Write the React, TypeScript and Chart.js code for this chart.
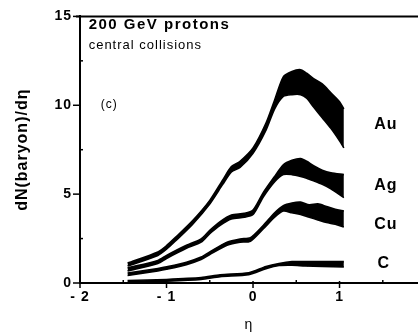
import React, { useEffect, useRef } from "react";
import { Chart, registerables } from "chart.js";

Chart.register(...registerables);

// ---- data (pseudorapidity eta vs dN(baryon)/deta, lower/upper edge of each band) ----
const etaAu = [-1.45, -1.1, -1.0, -0.9, -0.7, -0.5, -0.35, -0.25, -0.15, 0.0, 0.15, 0.25, 0.35, 0.45, 0.55, 0.62, 0.7, 0.8, 0.9, 1.0, 1.05];
const auLower = [0.95, 1.55, 1.9, 2.35, 3.3, 4.45, 5.55, 6.25, 6.5, 7.3, 8.6, 9.8, 10.5, 10.6, 10.6, 10.4, 9.9, 9.3, 8.7, 8.0, 7.6];
const auUpper = [1.12, 1.75, 2.1, 2.55, 3.5, 4.65, 5.8, 6.55, 6.85, 7.6, 9.0, 10.3, 11.6, 11.9, 12.0, 11.8, 11.5, 11.2, 10.7, 10.2, 9.8];

const etaAg = [-1.45, -1.1, -1.0, -0.77, -0.6, -0.5, -0.38, -0.25, -0.1, 0.0, 0.12, 0.25, 0.35, 0.45, 0.55, 0.62, 0.7, 0.8, 0.9, 1.05];
const agLower = [0.68, 1.1, 1.38, 1.95, 2.3, 2.78, 3.25, 3.6, 3.7, 3.85, 4.85, 5.7, 6.1, 6.1, 6.0, 5.9, 5.75, 5.55, 5.3, 4.8];
const agUpper = [0.85, 1.27, 1.55, 2.12, 2.48, 2.96, 3.45, 3.82, 3.92, 4.1, 5.1, 6.0, 6.65, 6.9, 7.0, 6.85, 6.6, 6.35, 6.2, 6.1];

const etaCu = [-1.45, -1.1, -1.0, -0.77, -0.6, -0.5, -0.3, -0.15, -0.03, 0.12, 0.25, 0.35, 0.45, 0.55, 0.65, 0.75, 0.85, 0.95, 1.05];
const cuLower = [0.42, 0.68, 0.77, 1.03, 1.32, 1.6, 2.12, 2.3, 2.35, 3.05, 3.7, 4.05, 3.95, 3.85, 3.7, 3.55, 3.4, 3.3, 3.15];
const cuUpper = [0.56, 0.82, 0.91, 1.17, 1.46, 1.75, 2.3, 2.48, 2.55, 3.25, 3.95, 4.35, 4.5, 4.55, 4.4, 4.45, 4.3, 4.15, 4.05];

const etaC = [-1.45, -1.0, -0.6, -0.38, -0.05, 0.15, 0.3, 0.45, 0.6, 0.8, 1.05];
const cLower = [0.04, 0.1, 0.2, 0.36, 0.47, 0.8, 0.98, 1.0, 0.96, 0.93, 0.9];
const cUpper = [0.14, 0.2, 0.3, 0.46, 0.58, 0.93, 1.1, 1.2, 1.2, 1.2, 1.2];

const speciesNames = ["Au", "Ag", "Cu", "C"];
const labelValues = [8.9, 5.5, 3.3, 1.1]; // y value where each species label sits

const titleText = "200 GeV protons";
const subtitleText = "central collisions";
const panelText = "(c)";
const xTitle = "η";
const yTitle = "dN(baryon)/dη";

const FONT = "'Liberation Sans', Arial, Helvetica, sans-serif";

const pts = (xs: number[], ys: number[]) => xs.map((x, i) => ({ x, y: ys[i] }));

const band = (xs: number[], lo: number[], hi: number[]) => [
  {
    data: pts(xs, hi),
    borderColor: "#000",
    backgroundColor: "#000",
    borderWidth: 1.6,
    pointRadius: 0,
    tension: 0.25,
    fill: false,
  },
  {
    data: pts(xs, lo),
    borderColor: "#000",
    backgroundColor: "#000",
    borderWidth: 1.6,
    pointRadius: 0,
    tension: 0.25,
    fill: "-1",
  },
];

const decor = {
  id: "decor",
  beforeDraw(chart: any) {
    chart.ctx.letterSpacing = "1px";
  },
  afterDraw(chart: any) {
    const { ctx, chartArea, scales } = chart;
    const x = scales.x;
    const y = scales.y;
    ctx.save();
    ctx.strokeStyle = "#000";
    ctx.lineWidth = 2;
    // top frame
    ctx.beginPath();
    ctx.moveTo(chartArea.left - 4, chartArea.top);
    ctx.lineTo(chartArea.right, chartArea.top);
    ctx.stroke();
    ctx.lineWidth = 1.5;
    // y ticks: major outward, minor inward
    const yt = y.ticks.map((t: any) => t.value);
    yt.forEach((v: number, i: number) => {
      const py = y.getPixelForValue(v);
      ctx.beginPath();
      ctx.moveTo(chartArea.left - 7, py);
      ctx.lineTo(chartArea.left, py);
      ctx.stroke();
      if (i < yt.length - 1) {
        const pm = y.getPixelForValue((v + yt[i + 1]) / 2);
        ctx.beginPath();
        ctx.moveTo(chartArea.left, pm);
        ctx.lineTo(chartArea.left + 3, pm);
        ctx.stroke();
      }
    });
    // x ticks
    const xt = x.ticks.map((t: any) => t.value);
    xt.forEach((v: number) => {
      const px = x.getPixelForValue(v);
      ctx.beginPath();
      ctx.moveTo(px, chartArea.bottom - 2);
      ctx.lineTo(px, chartArea.bottom + 5);
      ctx.stroke();
      const pm = x.getPixelForValue(v + 0.5);
      if (pm < chartArea.right) {
        ctx.beginPath();
        ctx.moveTo(pm, chartArea.bottom);
        ctx.lineTo(pm, chartArea.bottom - 3);
        ctx.stroke();
      }
    });
    // texts
    ctx.fillStyle = "#000";
    ctx.textAlign = "left";
    ctx.textBaseline = "middle";
    ctx.letterSpacing = "1.5px";
    ctx.font = `bold 15px ${FONT}`;
    ctx.fillText(titleText, x.getPixelForValue(-1.9), y.getPixelForValue(14.5));
    ctx.letterSpacing = "1px";
    ctx.font = `13px ${FONT}`;
    ctx.fillText(subtitleText, x.getPixelForValue(-1.9), y.getPixelForValue(13.35));
    ctx.font = `12px ${FONT}`;
    ctx.fillText(panelText, x.getPixelForValue(-1.76), y.getPixelForValue(10.05));
    ctx.font = `bold 16px ${FONT}`;
    speciesNames.forEach((n, i) => {
      const ex = n === "C" ? 1.44 : 1.4;
      ctx.fillText(n, x.getPixelForValue(ex), y.getPixelForValue(labelValues[i]));
    });
    ctx.restore();
  },
};

export default function App() {
  const ref = useRef<HTMLCanvasElement | null>(null);
  useEffect(() => {
    if (!ref.current) return;
    const chart = new Chart(ref.current, {
      type: "line",
      data: {
        datasets: [
          ...band(etaAu, auLower, auUpper),
          ...band(etaAg, agLower, agUpper),
          ...band(etaCu, cuLower, cuUpper),
          ...band(etaC, cLower, cUpper),
        ] as any,
      },
      options: {
        animation: false,
        responsive: false,
        devicePixelRatio: 1,
        layout: { padding: { top: 14, left: 0, right: 0, bottom: 0 } },
        plugins: { legend: { display: false }, tooltip: { enabled: false } },
        scales: {
          x: {
            type: "linear",
            min: -2,
            max: 1.907,
            afterFit: (axis: any) => {
              axis.height = 51;
            },
            grid: { display: false, drawTicks: false, tickLength: 0 },
            border: { display: true, color: "#000", width: 2 },
            ticks: {
              stepSize: 1,
              includeBounds: false,
              padding: 6,
              color: "#000",
              font: { family: FONT, size: 14, weight: "bold" },
              callback: (v: any) => (v < 0 ? "- " + Math.abs(v) : String(v)),
            },
            title: {
              display: true,
              text: xTitle,
              color: "#000",
              font: { family: FONT, size: 14 },
              padding: { top: 0, bottom: 0 },
            },
          },
          y: {
            type: "linear",
            min: 0,
            max: 15,
            afterFit: (axis: any) => {
              axis.width = 80;
            },
            grid: { display: false, drawTicks: false, tickLength: 0 },
            border: { display: true, color: "#000", width: 2 },
            ticks: {
              stepSize: 5,
              padding: 8,
              color: "#000",
              font: { family: FONT, size: 14, weight: "bold" },
            },
            title: {
              display: true,
              text: yTitle,
              color: "#000",
              font: { family: FONT, size: 16, weight: "bold" },
              padding: { top: 13, bottom: 0 },
            },
          },
        },
      } as any,
      plugins: [decor],
    });
    return () => chart.destroy();
  }, []);
  return (
    <div style={{ position: "absolute", left: 0, top: 0, width: 418, height: 334, background: "#fff" }}>
      <canvas ref={ref} width={418} height={334} style={{ display: "block" }} />
    </div>
  );
}
